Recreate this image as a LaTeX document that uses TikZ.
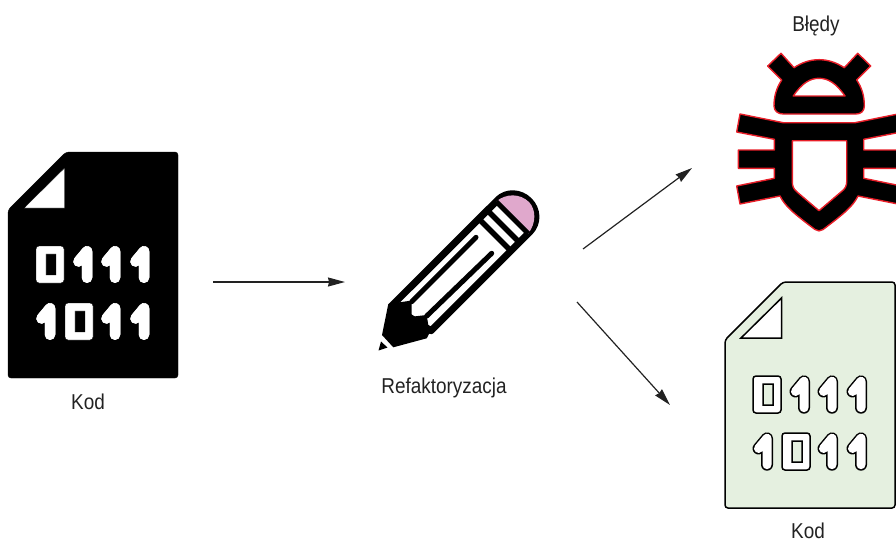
\documentclass[tikz,border=0pt]{standalone}
\usepackage{fontspec}
\setmainfont{Liberation Sans}[FakeStretch=0.88]
\usetikzlibrary{arrows.meta}
\definecolor{leafgreen}{RGB}{229,240,224}
\definecolor{bugred}{RGB}{232,30,40}
\definecolor{erasepink}{RGB}{224,168,204}
\definecolor{inkgray}{RGB}{34,34,34}
\tikzset{
  lab/.style     = {font=\fontsize{21.5}{24}\selectfont, text=inkgray, inner sep=0pt},
  link/.style    = {draw=inkgray, line width=1.2pt,
                    -{Stealth[length=17pt, width=9pt, inset=1pt]}},
  % Binary file: these five are overridden for the green copy.
  sheet/.style   = {fill=black, rounded corners=3pt},
  fold/.style    = {fill=white},
  bitzero/.style = {fill=white, even odd rule},
  bitedge/.style = {draw=white, line width=10.5pt, line cap=round, line join=round},
  bitcore/.style = {bitedge},
  outlined/.style = {
    sheet/.style   = {fill=leafgreen, draw=black, line width=1.5pt, rounded corners=3pt},
    fold/.style    = {fill=white, draw=black, line width=1.5pt},
    bitzero/.style = {fill=white, draw=black, line width=1.5pt, even odd rule},
    bitedge/.style = {draw=black, line width=12pt, line cap=round, line join=round},
    bitcore/.style = {draw=white, line width=9pt, line cap=round, line join=round},
  },
  bug/.style     = {fill=black, draw=bugred, line width=1.4pt, even odd rule, line join=round},
  pencilline/.style = {draw=black, line width=7pt},
  pencilgroove/.style = {draw=black, line width=5pt, line cap=round},
}
\newcommand{\bitO}[2]{%
  \draw[bitzero] [rounded corners=3pt] (#1,#2) rectangle ({#1+28},{#2+37})
    [sharp corners] ({#1+10},{#2+8}) rectangle ({#1+20},{#2+29});
}
\newcommand{\bitI}[2]{%
  \draw[bitedge] ({#1-8.5},{#2+15.5}) -- (#1,{#2+5.3}) -- (#1,{#2+31.7});
  \draw[bitcore] ({#1-8.5},{#2+15.5}) -- (#1,{#2+5.3}) -- (#1,{#2+31.7});
}
\newcommand{\binfile}{%
  \draw[sheet] (66,152) -- (178,152) -- (178,378) -- (8,378) -- (8,210) -- cycle;
  \draw[fold] (64.5,168) -- (64.5,208) -- (24,208) -- cycle;
  \bitO{36}{246}
  \foreach \sx in {87,115,144} {\bitI{\sx}{246}}
  \bitO{65}{303}
  \foreach \sx in {50,115,144} {\bitI{\sx}{303}}
}

\begin{document}
\begin{tikzpicture}[x=1pt, y=-1pt]
    \clip (0,0) rectangle (896,542);

    % left file
    \binfile
    \node[lab] (kodin) at (88,402) {Kod};

    % pencil
    \draw[pencilline, fill=white, line join=round] (391.5,306) -- (498,199.7)
      .. controls (506.3,191.4) and (520.2,191.9) .. (529,200.7)
      .. controls (537.8,209.5) and (538.3,222.9) .. (530,231.7)
      -- (431,330.7) -- cycle;
    \fill[erasepink] (496.2,201.5) .. controls (506.3,193) and (520.2,193.5) .. (529,202)
      .. controls (536,209.5) and (536.5,222.9) .. (528.2,233.5) -- cycle;
    \draw[pencilline, line width=5pt] (496.2,201.5) -- (528.2,233.5);
    \draw[pencilline, line width=5.5pt] (487.4,210.3) -- (519.4,242.3);
    \draw[pencilline, line width=5.5pt] (478.9,218.8) -- (510.9,250.8);
    \draw[pencilgroove] (476,237.3) -- (411.7,301.7);
    \draw[pencilgroove] (491.7,253.3) -- (426.7,316);
    \fill[black] (388.3,304) -- (411.7,300.5) -- (411.7,316.7) -- (426.7,315)
      -- (429.5,333) -- (426.7,338.3) -- (393.3,347.3) -- (382,335) -- cycle;
    \fill[black] (381,341.5) -- (387.5,347.5) -- (378.5,350.5) -- cycle;
    \node[lab] (refactor) at (444,388) {Refaktoryzacja};

    % bug
    \draw[bug] (781,53.3) -- (767.7,66) -- (781.7,80)
      .. controls (776.5,88) and (774,96) .. (774,106)
      .. controls (774,111) and (778,114) .. (783.3,114) -- (856,114)
      .. controls (861,114) and (864.3,111) .. (864.3,106)
      .. controls (864.3,96) and (862,88) .. (856.7,80)
      -- (870.7,66) -- (857.7,53.3) -- (844.3,67.7)
      .. controls (828,57) and (810,57) .. (794,67.7) -- cycle
      (793.3,96) .. controls (802,83) and (810,78.3) .. (819,78.3)
      .. controls (828,78.3) and (836,83) .. (845,96) -- cycle;
    \draw[bug] (740,114) -- (783.3,122.7) -- (855,122.7) -- (898,114)
      -- (901.3,132) -- (863.7,139.3) -- (863.7,150) -- (899.7,150) -- (899.7,168.3)
      -- (863.7,168.3) -- (863.7,178.3) -- (901.3,186) -- (898,204) -- (858,196)
      .. controls (853,206) and (845,213) .. (823,229.5)
      .. controls (820.5,231.3) and (817.5,231.3) .. (815,229.5)
      .. controls (793,213) and (785,206) .. (780,196)
      -- (740,204) -- (736.7,186) -- (774.3,178.3) -- (774.3,168.3) -- (738.3,168.3)
      -- (738.3,150) -- (774.3,150) -- (774.3,139.3) -- (736.7,132) -- cycle
      (792.3,140.7) -- (846.7,140.7) -- (846.7,181.7)
      .. controls (846.7,186) and (845,189) .. (841.3,191.7) -- (819,210.7)
      -- (796.7,191.7) .. controls (793.5,189) and (792.3,186) .. (792.3,181.7) -- cycle;
    \node[lab] (bledy) at (816,26) {Błędy};

    % green file
    \begin{scope}[shift={(717,130)}, outlined]
      \binfile
    \end{scope}
    \node[lab] (kodout) at (808,531) {Kod};

    \coordinate (fileright) at (213,282);
    \coordinate (pencilleft) at (345,282);
    \coordinate (pencilup) at (583,249);
    \coordinate (bugin) at (692,168);
    \coordinate (pencildown) at (577,302);
    \coordinate (filein) at (670,405);

    \draw[link] (fileright) -- (pencilleft);
    \draw[link] (pencilup) -- (bugin);
    \draw[link] (pencildown) -- (filein);
\end{tikzpicture}
\end{document}
